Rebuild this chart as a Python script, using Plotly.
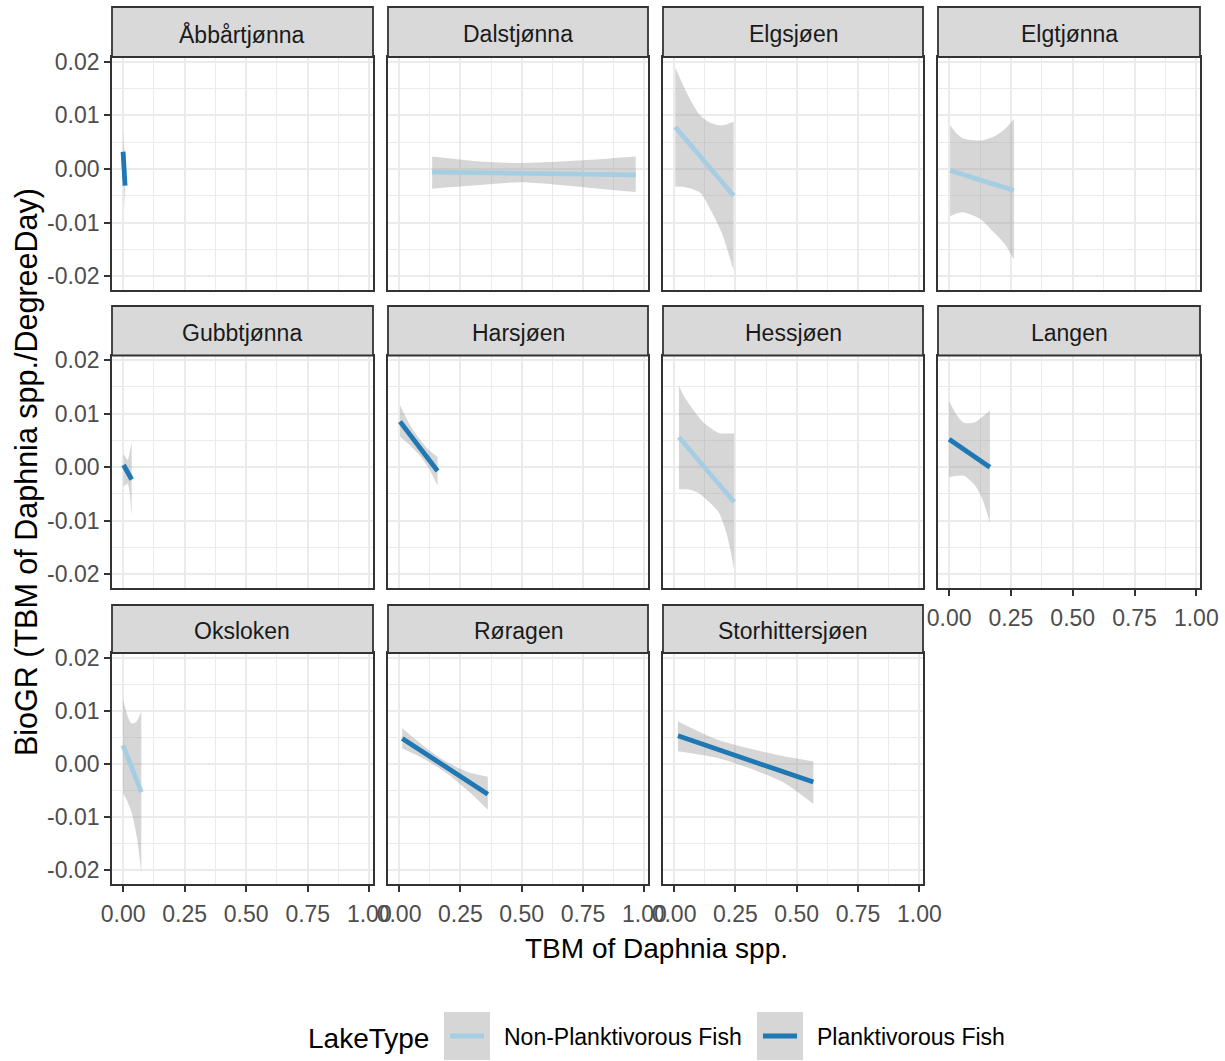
import plotly.graph_objects as go

# ---- data: linear fits with 95% confidence bands per lake ----
lakes = ["Åbbårtjønna", "Dalstjønna", "Elgsjøen", "Elgtjønna",
         "Gubbtjønna", "Harsjøen", "Hessjøen", "Langen",
         "Oksloken", "Røragen", "Storhittersjøen"]
lake_type = ["Planktivorous Fish", "Non-Planktivorous Fish", "Non-Planktivorous Fish",
             "Non-Planktivorous Fish", "Planktivorous Fish", "Planktivorous Fish",
             "Non-Planktivorous Fish", "Planktivorous Fish", "Non-Planktivorous Fish",
             "Planktivorous Fish", "Planktivorous Fish"]

# fitted line end points (TBM, BioGR)
fit_x = [[0.0, 0.008], [0.135, 0.965], [0.005, 0.243], [0.004, 0.262],
         [0.002, 0.035], [0.004, 0.157], [0.020, 0.245], [0.0, 0.165],
         [0.0, 0.074], [0.013, 0.362], [0.016, 0.568]]
fit_y = [[0.0032, -0.0031], [-0.0006, -0.0011], [0.0078, -0.0050], [-0.0003, -0.0040],
         [0.0004, -0.0023], [0.0085, -0.0007], [0.0056, -0.0065], [0.0052, 0.0000],
         [0.0035, -0.0053], [0.0048, -0.0057], [0.0053, -0.0034]]

# confidence band (upper / lower) sampled along TBM
ci_x = [[0.0, 0.004, 0.008],
        [0.135, 0.30, 0.50, 0.75, 0.965],
        [0.005, 0.035, 0.065, 0.108, 0.152, 0.195, 0.243],
        [0.004, 0.030, 0.061, 0.129, 0.183, 0.225, 0.262],
        [0.002, 0.018, 0.035],
        [0.004, 0.040, 0.080, 0.120, 0.157],
        [0.020, 0.040, 0.064, 0.095, 0.126, 0.182, 0.215, 0.245],
        [0.0, 0.030, 0.060, 0.105, 0.135, 0.165],
        [0.0, 0.017, 0.034, 0.055, 0.074],
        [0.013, 0.100, 0.190, 0.280, 0.362],
        [0.016, 0.170, 0.308, 0.443, 0.568]]
ci_upper = [[0.0072, 0.0040, 0.0030],
            [0.0023, 0.0015, 0.0011, 0.0016, 0.0023],
            [0.0189, 0.0158, 0.0130, 0.0099, 0.0085, 0.0081, 0.0088],
            [0.0082, 0.0066, 0.0056, 0.0053, 0.0061, 0.0074, 0.0093],
            [0.0025, 0.0014, 0.0048],
            [0.0116, 0.0082, 0.0055, 0.0033, 0.0019],
            [0.0152, 0.0133, 0.0116, 0.0097, 0.0081, 0.0064, 0.0063, 0.0063],
            [0.0123, 0.0098, 0.0083, 0.0084, 0.0094, 0.0106],
            [0.0122, 0.0092, 0.0076, 0.0080, 0.0099],
            [0.0067, 0.0034, 0.0005, -0.0015, -0.0024],
            [0.0080, 0.0047, 0.0029, 0.0015, 0.0005]]
ci_lower = [[-0.0010, -0.0040, -0.0082],
            [-0.0037, -0.0031, -0.0025, -0.0034, -0.0043],
            [-0.0033, -0.0033, -0.0036, -0.0045, -0.0079, -0.0120, -0.0189],
            [-0.0088, -0.0083, -0.0081, -0.0094, -0.0119, -0.0140, -0.0169],
            [-0.0036, -0.0031, -0.0092],
            [0.0057, 0.0043, 0.0024, -0.0001, -0.0034],
            [-0.0041, -0.0041, -0.0042, -0.0047, -0.0058, -0.0084, -0.0125, -0.0190],
            [-0.0019, -0.0016, -0.0016, -0.0034, -0.0060, -0.0104],
            [-0.0055, -0.0070, -0.0090, -0.0135, -0.0204],
            [0.0029, 0.0010, -0.0016, -0.0050, -0.0086],
            [0.0024, 0.0012, -0.0008, -0.0034, -0.0075]]

x_tickvals = [0.0, 0.25, 0.5, 0.75, 1.0]
x_ticktext = ["0.00", "0.25", "0.50", "0.75", "1.00"]
y_tickvals = [-0.02, -0.01, 0.0, 0.01, 0.02]
y_ticktext = ["-0.02", "-0.01", "0.00", "0.01", "0.02"]

type_colors = {"Non-Planktivorous Fish": "#a6cee3", "Planktivorous Fish": "#1f78b4"}

# ---- layout geometry (pixels) ----
W, H = 1225, 1061
col_px = [(112, 373), (388, 648), (663, 923), (938, 1200)]
row_px = [(7, 57, 290), (306, 355.5, 588), (605, 653, 884)]  # strip top, panel top, panel bottom
X_RANGE = [-0.045, 1.015]
Y_RANGE = [-0.02255, 0.02085]
FONT = "Liberation Sans, Arial, sans-serif"
DARK = "#333333"
GRID = "#ebebeb"
SMALL = 23


def px_x(p):
    return p / W


def px_y(p):
    return 1 - p / H


fig = go.Figure()
layout = dict(
    width=W, height=H, autosize=False,
    margin=dict(l=0, r=0, t=0, b=0, pad=0, autoexpand=False),
    paper_bgcolor="white", plot_bgcolor="white", showlegend=False,
    font=dict(family=FONT, size=SMALL, color="#4d4d4d"),
)
shapes, annotations = [], []

for i, lake in enumerate(lakes):
    r, c = divmod(i, 4)
    sfx = "" if i == 0 else str(i + 1)
    xa, ya = "x" + sfx, "y" + sfx
    left, right = col_px[c]
    s_top, p_top, p_bot = row_px[r]

    show_x = (r == 2) or (r == 1 and c == 3)
    show_y = c == 0

    layout["xaxis" + sfx] = dict(
        domain=[px_x(left), px_x(right)], range=X_RANGE, anchor=ya, automargin=False,
        tickvals=x_tickvals, ticktext=x_ticktext, showticklabels=show_x,
        ticks="outside" if show_x else "", ticklen=6, tickwidth=1.6, tickcolor=DARK,
        ticklabelstandoff=2,
        tickfont=dict(size=SMALL, color="#4d4d4d", family=FONT),
        showgrid=True, gridcolor=GRID, gridwidth=2, zeroline=False,
        minor=dict(tickvals=[0.125, 0.375, 0.625, 0.875], showgrid=True,
                   gridcolor=GRID, gridwidth=1.2, ticks=""),
        showline=True, linecolor=DARK, linewidth=1.8, mirror=True,
    )
    layout["yaxis" + sfx] = dict(
        domain=[px_y(p_bot), px_y(p_top)], range=Y_RANGE, anchor=xa, automargin=False,
        tickvals=y_tickvals, ticktext=y_ticktext, showticklabels=show_y,
        ticks="outside" if show_y else "", ticklen=6, tickwidth=1.6, tickcolor=DARK,
        tickfont=dict(size=SMALL, color="#4d4d4d", family=FONT),
        showgrid=True, gridcolor=GRID, gridwidth=2, zeroline=False,
        minor=dict(tickvals=[-0.015, -0.005, 0.005, 0.015], showgrid=True,
                   gridcolor=GRID, gridwidth=1.2, ticks=""),
        showline=True, linecolor=DARK, linewidth=1.8, mirror=True,
    )

    # confidence band: lower edge, then upper edge filled down to it
    fig.add_trace(go.Scatter(
        x=ci_x[i], y=ci_lower[i], xaxis=xa, yaxis=ya, mode="lines",
        line=dict(width=0, shape="spline", smoothing=0.7),
        hoverinfo="skip", name=lake,
    ))
    fig.add_trace(go.Scatter(
        x=ci_x[i], y=ci_upper[i], xaxis=xa, yaxis=ya, mode="lines",
        fill="tonexty", fillcolor="rgba(153,153,153,0.4)",
        line=dict(width=0, shape="spline", smoothing=0.7),
        hoverinfo="skip", name=lake,
    ))
    # fitted line
    fig.add_trace(go.Scatter(
        x=fit_x[i], y=fit_y[i], xaxis=xa, yaxis=ya, mode="lines",
        line=dict(color=type_colors[lake_type[i]], width=4.8),
        name=lake_type[i],
    ))

    # facet strip
    shapes.append(dict(type="rect", xref="paper", yref="paper",
                       x0=px_x(left), x1=px_x(right), y0=px_y(p_top), y1=px_y(s_top),
                       fillcolor="#d9d9d9", line=dict(color=DARK, width=1.8), layer="above"))
    annotations.append(dict(text=lake, xref="paper", yref="paper",
                            x=px_x((left + right) / 2), y=px_y((s_top + p_top) / 2 + 2),
                            xanchor="center", yanchor="middle", showarrow=False,
                            font=dict(size=SMALL, color="#1a1a1a", family=FONT)))

# axis titles
annotations.append(dict(text="TBM of Daphnia spp.", xref="paper", yref="paper",
                        x=px_x(656), y=px_y(948), xanchor="center", yanchor="middle",
                        showarrow=False, font=dict(size=28, color="black", family=FONT)))
annotations.append(dict(text="BioGR (TBM of Daphnia spp./DegreeDay)", xref="paper", yref="paper",
                        x=px_x(26), y=px_y(472), xanchor="center", yanchor="middle",
                        textangle=-90, showarrow=False,
                        font=dict(size=30.5, color="black", family=FONT)))

# legend
annotations.append(dict(text="LakeType", xref="paper", yref="paper",
                        x=px_x(306), y=px_y(1038), xanchor="left", yanchor="middle",
                        showarrow=False, font=dict(size=28, color="black", family=FONT)))
legend_items = ["Non-Planktivorous Fish", "Planktivorous Fish"]
key_left = [444, 757]
for name, kx in zip(legend_items, key_left):
    shapes.append(dict(type="rect", xref="paper", yref="paper",
                       x0=px_x(kx), x1=px_x(kx + 46), y0=px_y(1060), y1=px_y(1012),
                       fillcolor="#d6d6d6", line=dict(width=0)))
    shapes.append(dict(type="line", xref="paper", yref="paper",
                       x0=px_x(kx + 6), x1=px_x(kx + 40), y0=px_y(1036), y1=px_y(1036),
                       line=dict(color=type_colors[name], width=4.8)))
    annotations.append(dict(text=name, xref="paper", yref="paper",
                            x=px_x(kx + 58), y=px_y(1037), xanchor="left", yanchor="middle",
                            showarrow=False, font=dict(size=SMALL, color="black", family=FONT)))

layout["shapes"] = shapes
layout["annotations"] = annotations
fig.update_layout(**layout)
fig.write_html("out.html")
